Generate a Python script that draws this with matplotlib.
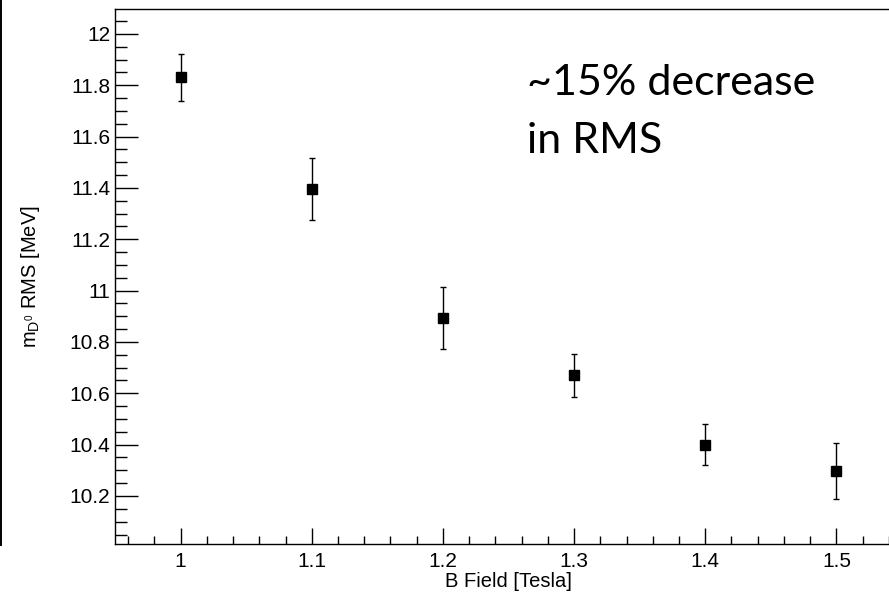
import matplotlib
matplotlib.use("Agg")
import matplotlib.pyplot as plt
from matplotlib.ticker import MultipleLocator, FuncFormatter
from matplotlib.lines import Line2D

b_field = [1.0, 1.1, 1.2, 1.3, 1.4, 1.5]
rms = [11.831, 11.397, 10.894, 10.670, 10.399, 10.297]
rms_err = [0.091, 0.120, 0.120, 0.083, 0.080, 0.110]

x_label = "B Field [Tesla]"
y_label = r"$\mathregular{m_{D^{0}}}$ RMS [MeV]"
note_lines = ["~15% decrease", "in RMS"]

plt.rcParams['font.family'] = ['Liberation Sans', 'DejaVu Sans']
plt.rcParams['mathtext.fontset'] = 'custom'
plt.rcParams['mathtext.rm'] = 'Liberation Sans'
plt.rcParams['mathtext.it'] = 'Liberation Sans'

W, H = 889, 593
fig = plt.figure(figsize=(W / 100, H / 100), dpi=100)
ax = fig.add_axes([115 / W, 1 - 544 / H, 787 / W, 535 / H])

ax.errorbar(b_field, rms, yerr=rms_err, fmt='s', color='black', ms=7.8,
            ecolor='black', elinewidth=1.0, capsize=2.4, capthick=1.0)

ax.set_xlim(0.95, 1.55)
ax.set_ylim(10.013, 12.097)

ax.xaxis.set_major_locator(MultipleLocator(0.1))
ax.xaxis.set_minor_locator(MultipleLocator(0.02))
ax.yaxis.set_major_locator(MultipleLocator(0.2))
ax.yaxis.set_minor_locator(MultipleLocator(0.05))
fmt = FuncFormatter(lambda v, p: ('%.1f' % v).rstrip('0').rstrip('.'))
ax.xaxis.set_major_formatter(fmt)
ax.yaxis.set_major_formatter(fmt)

ax.tick_params(axis='y', which='major', direction='in', length=16.5, width=1.0, labelsize=15, pad=3.4)
ax.tick_params(axis='y', which='minor', direction='in', length=8.6, width=1.0)
ax.tick_params(axis='x', which='major', direction='in', length=11.5, width=1.0, labelsize=15, pad=5.8)
ax.tick_params(axis='x', which='minor', direction='in', length=5.8, width=1.0)
for s in ax.spines.values():
    s.set_linewidth(1.0)

ax.set_xlabel(x_label, fontsize=14.5, labelpad=0.5)
fig.text(30 / W, 1 - 276.5 / H, y_label, rotation=90, fontsize=14.5, ha='center', va='center')

fig.text(527 / W, 1 - 95 / H, note_lines[0], fontsize=31, family=['Lato', 'DejaVu Sans'], va='baseline', ha='left')
fig.text(527 / W, 1 - 153 / H, note_lines[1], fontsize=31, family=['Lato', 'DejaVu Sans'], va='baseline', ha='left')

fig.add_artist(Line2D([1.2 / W, 1.2 / W], [1 - 545 / H, 1.0], color='black', lw=1.4))

fig.savefig("out.png", dpi=100)
